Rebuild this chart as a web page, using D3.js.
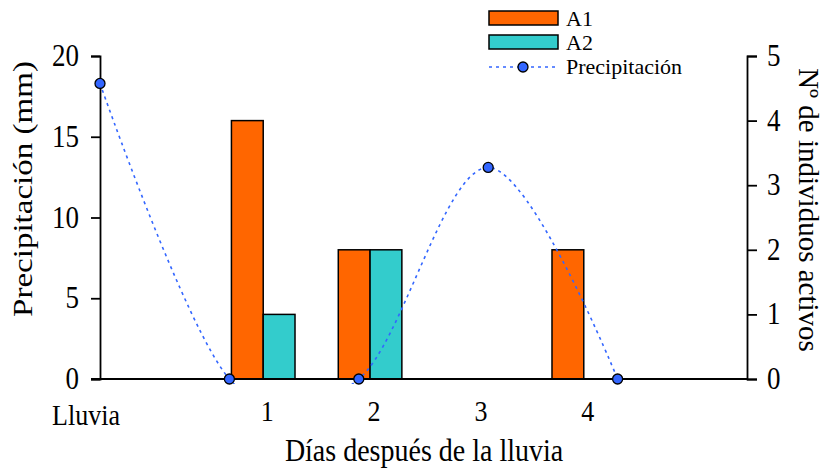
<!DOCTYPE html>
<html>
<head>
<meta charset="utf-8">
<script src="https://cdn.jsdelivr.net/npm/d3@7"></script>
<style>
  body { margin: 0; background: #fff; }
  svg text { font-family: "Liberation Serif", "Times New Roman", serif; fill: #000; }
</style>
</head>
<body>
<svg id="chart" width="831" height="473"></svg>
<script>
// ---- data ----
const categories = ["Lluvia", "1", "2", "3", "4"];
const precipitation = [18.3, 0, 0, 13.1, 0];      // mm (left axis)
const barDays = ["1", "2", "3", "4"];
const seriesA1 = [4, 2, 0, 2];                    // individuals (right axis)
const seriesA2 = [1, 2, 0, 0];
const leftTicks = [0, 5, 10, 15, 20];
const rightTicks = [0, 1, 2, 3, 4, 5];
const seriesNames = ["A1", "A2", "Precipitación"];

// ---- layout ----
const SERIF = "'Liberation Serif', 'Times New Roman', serif";
const STRETCH = 1.15; // glyphs in the reference are slightly taller than wide
const svg = d3.select("#chart");
const L = 100, R = 747, T = 56, B = 379;
const colA1 = "#FF6600", colA2 = "#33CCCC", colLine = "#3366FF";

const yLeft = d3.scaleLinear().domain([0, 20]).range([B, T]);
const yRight = d3.scaleLinear().domain([0, 5]).range([B, T]);

const xLine = d3.scalePoint().domain([...categories, "_"]).range([L, R]);
const xBar = d3.scaleBand().domain(["Lluvia", ...barDays, "_"]).range([L, R])
  .paddingInner(0.405).paddingOuter(0.23);
const xSub = d3.scaleBand().domain(["A1", "A2"]).range([0, xBar.bandwidth()]);

// ---- bars ----
const barData = [];
barDays.forEach((d, i) => {
  barData.push({ day: d, s: "A1", v: seriesA1[i] });
  barData.push({ day: d, s: "A2", v: seriesA2[i] });
});
svg.append("g").selectAll("rect").data(barData.filter(d => d.v > 0)).join("rect")
  .attr("x", d => xBar(d.day) + xSub(d.s))
  .attr("y", d => yRight(d.v))
  .attr("width", xSub.bandwidth())
  .attr("height", d => yRight(0) - yRight(d.v))
  .attr("fill", d => d.s === "A1" ? colA1 : colA2)
  .attr("stroke", "#000").attr("stroke-width", 1.5);

// ---- precipitation line ----
svg.append("clipPath").attr("id", "plotclip").append("rect")
  .attr("x", L - 10).attr("y", 0).attr("width", R - L + 20).attr("height", B + 5);
const line = d3.line()
  .x((d, i) => xLine(categories[i]))
  .y(d => yLeft(d))
  .curve(d3.curveCardinal.tension(0));
svg.append("path").datum(precipitation)
  .attr("d", line)
  .attr("fill", "none").attr("stroke", colLine)
  .attr("stroke-width", 1.6).attr("stroke-dasharray", "3,4")
  .attr("clip-path", "url(#plotclip)");

// ---- axes ----
const axL = svg.append("g").attr("transform", `translate(${L},0)`)
  .call(d3.axisLeft(yLeft).tickValues(leftTicks).tickFormat(d3.format("d")).tickSize(9).tickPadding(12));
const axR = svg.append("g").attr("transform", `translate(${R},0)`)
  .call(d3.axisRight(yRight).tickValues(rightTicks).tickFormat(d3.format("d")).tickSize(10).tickPadding(10));
[axL, axR].forEach(a => {
  a.attr("font-family", SERIF).attr("font-size", 27);
  a.selectAll("path.domain").attr("stroke", "#000").attr("stroke-width", 1.8);
  a.selectAll(".tick line").attr("stroke", "#000").attr("stroke-width", 1.8);
  a.selectAll(".tick text").attr("fill", "#000")
    .attr("dy", null).attr("y", 9.5 / STRETCH)
    .attr("transform", `scale(1,${STRETCH})`);
});
// baseline
svg.append("line").attr("x1", L - 9).attr("x2", R).attr("y1", B).attr("y2", B)
  .attr("stroke", "#000").attr("stroke-width", 1.8);

// x tick labels
const axX = svg.append("g").attr("transform", `translate(0,${B})`)
  .call(d3.axisBottom(xBar).tickValues(["Lluvia", ...barDays]).tickSize(0).tickPadding(0));
axX.attr("font-family", SERIF).attr("font-size", 26);
axX.select("path.domain").remove();
axX.selectAll(".tick text").attr("fill", "#000")
  .attr("dx", d => d === "Lluvia" ? (86 - xBar("Lluvia") - xBar.bandwidth() / 2) : 4)
  .attr("dy", null)
  .attr("y", d => (d === "Lluvia" ? 46 : 42) / STRETCH)
  .attr("transform", `scale(1,${STRETCH})`);

// ---- dots ----
svg.append("g").selectAll("circle").data(precipitation).join("circle")
  .attr("cx", (d, i) => xLine(categories[i]))
  .attr("cy", d => yLeft(d))
  .attr("r", 5)
  .attr("fill", colLine).attr("stroke", "#000").attr("stroke-width", 1.3);

// ---- axis titles ----
svg.append("text").attr("transform", `translate(32,189) rotate(-90)`)
  .attr("text-anchor", "middle").style("font-size", "28px")
  .attr("textLength", 256).attr("lengthAdjust", "spacingAndGlyphs")
  .text("Precipitación (mm)");
svg.append("text").attr("transform", `translate(799,210) rotate(90)`)
  .attr("text-anchor", "middle").style("font-size", "29px").text("Nº de individuos activos");
svg.append("text").attr("transform", `translate(424,461) scale(1,${STRETCH})`)
  .attr("text-anchor", "middle").style("font-size", "28px").text("Días después de la lluvia");

// ---- legend ----
const lg = svg.append("g");
[colA1, colA2].forEach((c, i) => {
  lg.append("rect").attr("x", 489).attr("y", 11 + i * 24).attr("width", 69).attr("height", 14)
    .attr("fill", c).attr("stroke", "#000").attr("stroke-width", 1.5);
  lg.append("text").attr("x", 566).attr("y", 26 + i * 24).style("font-size", "22px").text(seriesNames[i]);
});
lg.append("line").attr("x1", 489).attr("x2", 559).attr("y1", 67).attr("y2", 67)
  .attr("stroke", colLine).attr("stroke-width", 1.6).attr("stroke-dasharray", "3,4");
lg.append("circle").attr("cx", 523).attr("cy", 67).attr("r", 5)
  .attr("fill", colLine).attr("stroke", "#000").attr("stroke-width", 1.3);
lg.append("text").attr("x", 566).attr("y", 74).style("font-size", "22px").text(seriesNames[2]);
</script>
</body>
</html>
